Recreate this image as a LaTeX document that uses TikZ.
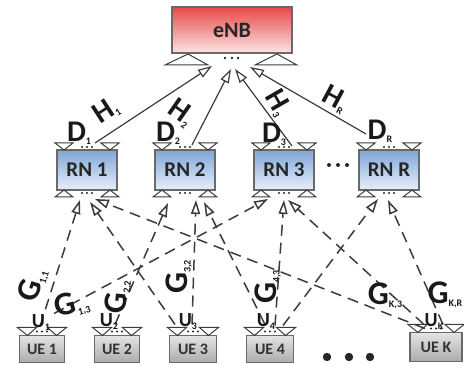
\documentclass[tikz,border=0pt]{standalone}
\usepackage{fontspec}
\setmainfont{Carlito}
\usetikzlibrary{arrows.meta,calc}
\definecolor{linegray}{RGB}{60,60,60}
\definecolor{boxedge}{RGB}{105,105,105}
\definecolor{enbtop}{RGB}{232,72,72}
\definecolor{enbbot}{RGB}{252,228,228}
\definecolor{rntop}{RGB}{128,166,214}
\definecolor{rnbot}{RGB}{230,239,250}
\definecolor{uetop}{RGB}{228,228,228}
\definecolor{uebot}{RGB}{172,172,172}
\newcommand\sublab[2]{#1\raisebox{-3pt}{\fontsize{10}{10}\selectfont #2}}
\tikzset{
  every node/.style={inner sep=0pt, outer sep=0pt},
  enbbox/.style={draw=boxedge, line width=1.4pt, minimum width=120pt, minimum height=46pt,
    top color=enbtop, bottom color=enbbot, font=\fontsize{22}{22}\selectfont\bfseries, text=black!85},
  rnbox/.style={draw=boxedge, line width=1.4pt, minimum width=60pt, minimum height=40pt,
    top color=rntop, bottom color=rnbot, font=\fontsize{21}{21}\selectfont\bfseries, text=black!85},
  uebox/.style={draw=boxedge, line width=1.4pt, minimum height=27pt,
    top color=uetop, bottom color=uebot, font=\fontsize{16}{16}\selectfont\bfseries, text=black!80},
  ant/.style={draw=linegray, line width=1pt, fill=white, line join=miter},
  hlink/.style={draw=linegray, line width=1.2pt, -{Triangle[open,length=14pt,width=9pt]}},
  glink/.style={draw=linegray, line width=1.5pt, dash pattern=on 11pt off 7pt,
    -{Triangle[open,length=14pt,width=9pt]}},
  lab/.style={font=\fontsize{30}{30}\selectfont\bfseries, text=black!90},
  glab/.style={font=\fontsize{33}{33}\selectfont\bfseries, text=black!90},
  ulab/.style={font=\fontsize{20}{20}\selectfont\bfseries, text=black!90},
  dot/.style={fill=black!85, draw=none},
}
\begin{document}
\begin{tikzpicture}[x=1pt,y=-1pt]
\useasboundingbox (0,0) rectangle (464,366);

% base station, relays and user terminals
\node[enbbox] (enb) at (232,30) {eNB};
\node[rnbox] (rn1) at (87,170) {RN 1};
\node[rnbox] (rn2) at (185,170) {RN 2};
\node[rnbox] (rn3) at (284,170) {RN 3};
\node[rnbox] (rnr) at (389,170) {RN R};
\node[uebox, minimum width=45pt] (ue1) at (42,349) {UE 1};
\node[uebox, minimum width=45pt] (ue2) at (117,349) {UE 2};
\node[uebox, minimum width=47pt] (ue3) at (193,349) {UE 3};
\node[uebox, minimum width=47pt] (ue4) at (270,349) {UE 4};
\node[uebox, minimum width=52pt, minimum height=29pt] (uek) at (436,347) {UE K};

% eNB antenna array
\draw[ant, shift={(enb.south west)}] (-7,12) -- (36,12) -- (16,1) -- cycle;
\draw[ant, shift={(enb.south east)}] (5,12) -- (-37,12) -- (-15,1) -- cycle;
\foreach \dx in {-7,0,6} \fill[dot] ($(enb.south)+(\dx,5)$) circle (1.3);

% relay antennas
\foreach \n in {rn1,rn2,rn3,rnr} {
  \draw[ant, shift={(\n.north west)}] (-2,-7) -- (16,-7) -- (7,0) -- cycle;
  \draw[ant, shift={(\n.north east)}] (2,-7) -- (-16,-7) -- (-7,0) -- cycle;
  \draw[ant, shift={(\n.south west)}] (-2,7) -- (16,7) -- (7,0) -- cycle;
  \draw[ant, shift={(\n.south east)}] (2,7) -- (-16,7) -- (-7,0) -- cycle;
  \foreach \dx in {-5,0,5} {
    \fill[dot] ($(\n.south)+(\dx,3)$) circle (1.2);
    \fill[dot] ($(\n.north)+(\dx,-3)$) circle (1.2);
  }
}

% terminal antennas
\foreach \n in {ue1,ue2,ue3,ue4,uek} {
  \draw[ant, shift={(\n.north west)}] (-2,-8) -- (17,-8) -- (8,0) -- cycle;
  \draw[ant, shift={(\n.north east)}] (2,-8) -- (-17,-8) -- (-8,0) -- cycle;
  \foreach \dx in {-5,0,5} \fill[dot] ($(\n.north)+(\dx,-4)$) circle (1.2);
}

% relay-to-eNB links
\draw[hlink] ($(rn1.north)+(8,-7)$) -- ($(enb.south)+(-20,13)$);
\draw[hlink] ($(rn2.north)+(7,-5)$) -- ($(enb.south)+(-1,16)$);
\draw[hlink] ($(rn3.north)+(8,-4)$) -- ($(enb.south)+(3,16)$);
\draw[hlink] ($(rnr.north)+(-23,-16)$) -- ($(enb.south)+(18,14)$);

% terminal-to-relay links
\draw[glink] ($(ue1.north)+(-2,-9)$) -- ($(rn1.south)+(-7,10)$);
\draw[glink] ($(ue1.north)+(12,-22)$) -- ($(rn3.south)+(-16,9)$);
\draw[glink] ($(ue2.north)+(-2,-11)$) -- ($(rn2.south)+(-17,13)$);
\draw[glink] ($(ue3.north)+(-18,-11)$) -- ($(rn1.south)+(3,12)$);
\draw[glink] ($(ue3.north)+(-1,-11)$) -- ($(rn2.south)+(11,10)$);
\draw[glink] ($(ue4.north)+(-5,-11)$) -- ($(rn2.south)+(19,12)$);
\draw[glink] ($(ue4.north)+(5,-10)$) -- ($(rn3.south)+(0,10)$);
\draw[glink] ($(ue4.north)+(13,-10)$) -- ($(rnr.south)+(-11,9)$);
\draw[glink] ($(uek.north)+(-11,-4)$) -- ($(rn1.south)+(8,9)$);
\draw[glink] ($(uek.north)+(-12,-8)$) -- ($(rn3.south)+(4,10)$);
\draw[glink] ($(uek.north)+(7,-8)$) -- ($(rnr.south)+(-1,10)$);

% ellipses
\foreach \x in {329,338,347} \fill[dot] (\x,165) circle (2);
\foreach \x in {327,349,370} \fill[dot] (\x,357) circle (4.2);

% channel labels
\node[lab, rotate=33] (h1) at (106,111) {\sublab{H}{1}};
\node[lab, rotate=-35] (h2) at (181,113) {\sublab{H}{2}};
\node[lab, rotate=-60] (h3) at (278,103) {\sublab{H}{3}};
\node[lab, rotate=-28] (hr) at (335,99) {\sublab{H}{R}};
\node[lab] (d1) at (79,133) {\sublab{D}{1}};
\node[lab] (d2) at (168,133) {\sublab{D}{2}};
\node[lab] (d3) at (274,134) {\sublab{D}{3}};
\node[lab] (dr) at (380,131) {\sublab{D}{R}};
\node[glab, rotate=73] (g11) at (33,285) {\sublab{G}{1,1}};
\node[glab, rotate=15] (g13) at (72,305) {\sublab{G}{1,3}};
\node[glab, rotate=85] (g22) at (118,297) {\sublab{G}{2,2}};
\node[glab, rotate=90] (g32) at (179,277) {\sublab{G}{3,2}};
\node[glab, rotate=90] (g43) at (268,287) {\sublab{G}{4,3}};
\node[glab] (gk3) at (385,296) {\sublab{G}{K,3}};
\node[glab] (gkr) at (445,295) {\sublab{G}{K,R}};
\node[ulab] (u1) at (41,323) {\sublab{U}{1}};
\node[ulab] (u2) at (109,322) {\sublab{U}{2}};
\node[ulab] (u3) at (188,322) {\sublab{U}{3}};
\node[ulab] (u4) at (266,322) {\sublab{U}{4}};
\node[ulab] (uk) at (434,322) {\sublab{U}{K}};
\end{tikzpicture}
\end{document}
